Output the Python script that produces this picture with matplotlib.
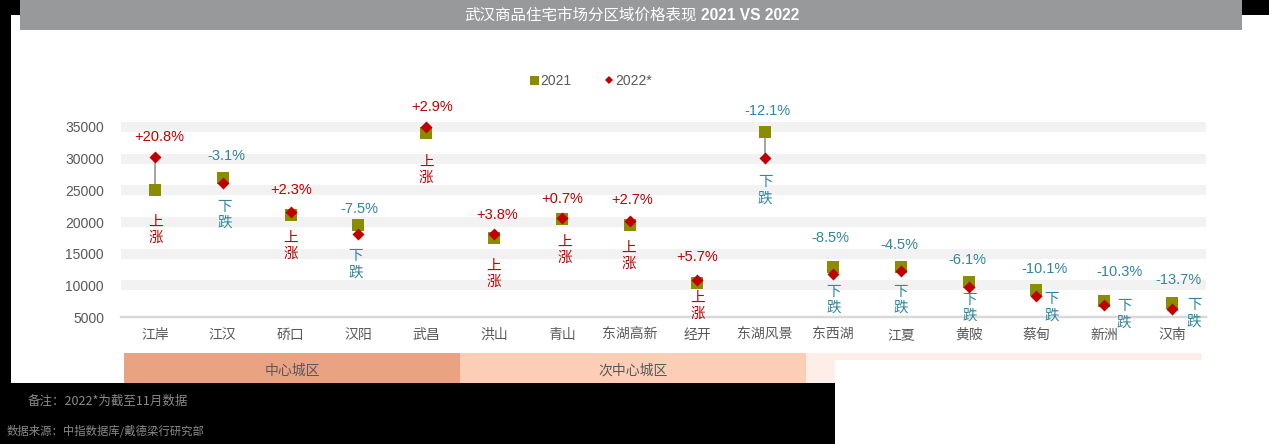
import matplotlib
matplotlib.use("Agg")
import matplotlib.pyplot as plt
from matplotlib.patches import Rectangle
from matplotlib.lines import Line2D

plt.rcParams['font.family'] = ['Liberation Sans', 'Noto Sans CJK SC', 'DejaVu Sans']

# ---------------- data ----------------
districts = ["江岸", "江汉", "硚口", "汉阳", "武昌", "洪山", "青山", "东湖高新",
             "经开", "东湖风景", "东西湖", "江夏", "黄陂", "蔡甸", "新洲", "汉南"]
price_2021 = [25000, 27000, 21100, 19500, 34000, 17500, 20500, 19600,
              10300, 34200, 12900, 12900, 10450, 9200, 7600, 7200]
price_2022 = [30200, 26160, 21585, 18040, 34990, 18165, 20645, 20130,
              10890, 30060, 11800, 12320, 9810, 8270, 6820, 6215]
pct_change = [20.8, -3.1, 2.3, -7.5, 2.9, 3.8, 0.7, 2.7,
              5.7, -12.1, -8.5, -4.5, -6.1, -10.1, -10.3, -13.7]
y_ticks = [5000, 10000, 15000, 20000, 25000, 30000, 35000]
regions = ["中心城区", "次中心城区", ""]
legend_labels = ["2021", "2022*"]
title_cn = "武汉商品住宅市场分区域价格表现"
title_en = "2021 VS 2022"
note1 = "备注：2022*为截至11月数据"
note2 = "数据来源：中指数据库/戴德梁行研究部"

# label placement (pixels)
pct_dx = [4, 4, 1, 1, 6, 3, 0, 3, 0, 2, -3, -1, -1, 8, 15, 6]
pct_dy = [20, 22, 22, 16, 20, 19, 19, 21, 23, 21, 29, 22, 22, 21, 29, 23]
trend_dx = [1, 2, 0, -3, 0, 0, 3, -1, 0, 0, 1, 0, 1, 15, 20, 22]
trend_dy = [40, 32, 31, 30, 37, 36, 31, 31, 22, 32, 26, 29, 21, 11, 9, 4]

# ---------------- styles ----------------
W, H, DPI = 1269, 444, 100
OLIVE = "#8C8C00"
RED = "#C00000"
TEAL = "#31859C"
TXT = "#595959"
PX = 72.0 / DPI

fig = plt.figure(figsize=(W / DPI, H / DPI), dpi=DPI, facecolor="black")


def px_rect(x0, y0, x1, y1, color, z=0):
    fig.add_artist(Rectangle((x0 / W, 1 - y1 / H), (x1 - x0) / W, (y1 - y0) / H,
                             transform=fig.transFigure, facecolor=color,
                             edgecolor="none", zorder=z))


# panels
px_rect(11, 15, W, 383, "white", z=-10)
px_rect(20, 0, 1242, 30, "#97999B", z=-9)

# title
fig.text(697 / W, 1 - 15.5 / H, title_cn, color="white", fontsize=11.2,
         ha="right", va="center", family=['Noto Sans CJK SC', 'DejaVu Sans'])
fig.text(701 / W, 1 - 15.5 / H, title_en, color="white", fontsize=11.2,
         ha="left", va="center", fontweight="bold",
         family=['Liberation Sans', 'DejaVu Sans'])

# axes
ax_left, ax_right = 121, 1206
ax_bottom = 317
ymin, ymax = 5000, 36000
ax_top = ax_bottom - (ymax - ymin) / 30000 * 190
ax = fig.add_axes([ax_left / W, 1 - ax_bottom / H, (ax_right - ax_left) / W,
                   (ax_bottom - ax_top) / H])
ax.set_facecolor("none")
ax.set_xlim(-0.5, len(districts) - 0.5)
ax.set_ylim(ymin, ymax)
for s in ax.spines.values():
    s.set_visible(False)

for t in y_ticks[1:]:
    ax.axhline(t, color="#F2F2F2", lw=10 * PX, zorder=0)
ax.axhline(y_ticks[0], color="#D9D9D9", lw=2.5 * PX, zorder=1, clip_on=False)

x = list(range(len(districts)))
ax.set_xticks(x)
ax.set_xticklabels(districts, fontsize=10, color=TXT)
ax.set_yticks(y_ticks)
ax.set_yticklabels([str(v) for v in y_ticks], fontsize=10, color=TXT)
ax.tick_params(axis="both", length=0)
ax.tick_params(axis="y", pad=17 * PX)
ax.tick_params(axis="x", pad=11 * PX)

# connectors and markers
ax.vlines(x, price_2021, price_2022, color="#A6A6A6", lw=2 * PX, zorder=2)
ax.scatter(x, price_2021, marker="s", s=(12 * PX) ** 2, color=OLIVE,
           linewidths=0, zorder=3, clip_on=False)
ax.scatter(x, price_2022, marker="D", s=(12 / 1.414 * PX) ** 2, color=RED,
           linewidths=0, zorder=4, clip_on=False)

for i in x:
    v21, v22, p = price_2021[i], price_2022[i], pct_change[i]
    col = RED if p > 0 else TEAL
    txt = ("+" if p > 0 else "") + f"{p:.1f}%"
    ax.annotate(txt, (i, max(v21, v22)), xytext=(pct_dx[i] * PX, pct_dy[i] * PX),
                textcoords="offset points", ha="center", va="center",
                fontsize=10.5, color=col, annotation_clip=False)
    chars = "上涨" if p > 0 else "下跌"
    for k, ch in enumerate(chars):
        ax.annotate(ch, (i, min(v21, v22)),
                    xytext=(trend_dx[i] * PX, -(trend_dy[i] - 8 + 16 * k) * PX),
                    textcoords="offset points", ha="center", va="center",
                    fontsize=10.5, color=col, annotation_clip=False,
                    family=['Noto Sans CJK SC', 'DejaVu Sans'])

# legend
handles = [Line2D([], [], marker="s", ls="none", color=OLIVE, markersize=9 * PX * 1.0,
                  markeredgewidth=0),
           Line2D([], [], marker="D", ls="none", color=RED, markersize=6 * PX,
                  markeredgewidth=0)]
fig.legend(handles, legend_labels, loc="center", bbox_to_anchor=(591 / W, 1 - 81 / H),
           ncol=2, frameon=False, fontsize=10, labelcolor=TXT, handlelength=0.6,
           handletextpad=0.15, columnspacing=2.4, borderpad=0)

# region bands
bands = [(124, 460, "#E9A282"), (460, 806, "#FCCEB6"), (806, 1202, "#FDEFE7")]
for (x0, x1, c), name in zip(bands, regions):
    px_rect(x0, 353, x1, 383, c, z=-5)
    if name:
        fig.text((x0 + x1) / 2 / W, 1 - 371 / H, name, fontsize=10, color=TXT,
                 ha="center", va="center",
                 family=['Noto Sans CJK SC', 'DejaVu Sans'])

# white box lower right
px_rect(835, 360, W, H, "white", z=-4)

# notes
fig.text(28 / W, 1 - 401 / H, note1, fontsize=9, color="#8A8A8A", ha="left", va="center",
         family=['Noto Sans CJK SC', 'DejaVu Sans'])
fig.text(7 / W, 1 - 431 / H, note2, fontsize=8.2, color="#8A8A8A", ha="left", va="center",
         family=['Noto Sans CJK SC', 'DejaVu Sans'])

fig.savefig("out.png", dpi=DPI, facecolor="black")
